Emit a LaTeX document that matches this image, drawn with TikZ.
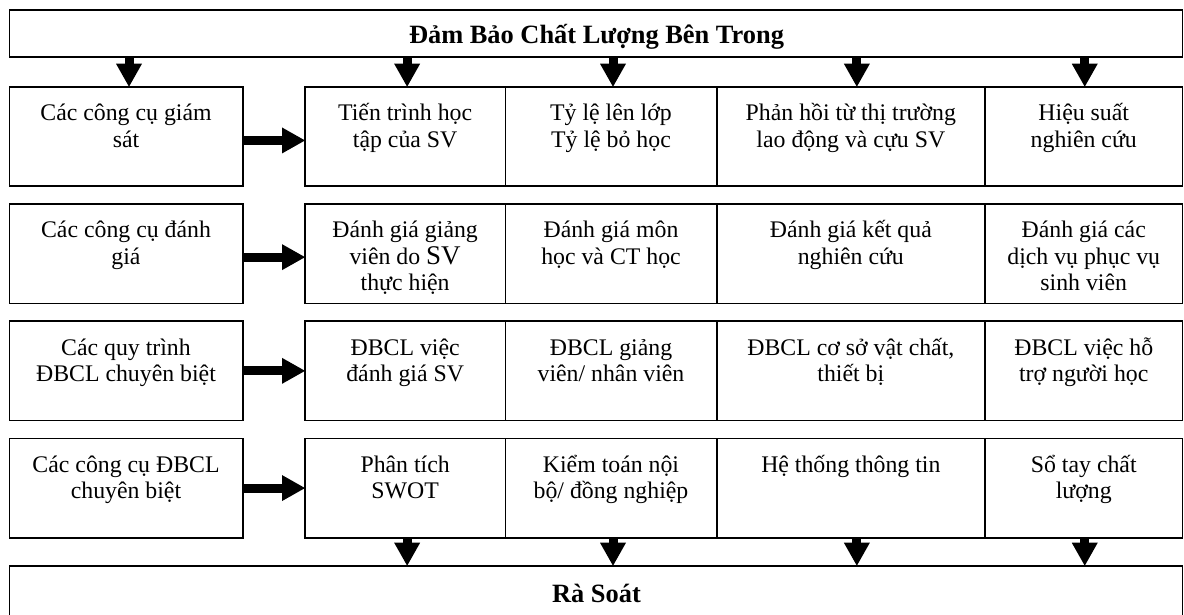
\documentclass[tikz,border=0pt]{standalone}
\usepackage{fontspec}
\setmainfont{Liberation Serif}
\usetikzlibrary{arrows.meta}

% centred lines with a fixed line pitch; the box baseline is the first line
\newcommand\celltext[1]{\vtop{\lineskiplimit=-100pt\relax\halign{\hfil##\hfil\cr#1\crcr}}}

\begin{document}
\begin{tikzpicture}[x=1pt,y=1pt,
  frame/.style={draw=black, line width=1.6pt, rectangle, inner sep=0pt, outer sep=0pt},
  bodytext/.style={anchor=base, inner sep=0pt, font=\fontsize{23.8}{26.5}\selectfont},
  headtext/.style={anchor=base, inner sep=0pt, font=\fontsize{26.4}{30}\selectfont\bfseries},
  blockarrow/.style={line width=9pt, black,
    -{Triangle[length=23pt,width=26pt,line width=0pt]}},
  leftcol/.style={frame, minimum width=233.4pt, minimum height=99.5pt},
  colA/.style={frame, minimum width=200.3pt, minimum height=99.5pt},
  colB/.style={frame, minimum width=211.4pt, minimum height=99.5pt},
  colC/.style={frame, minimum width=268.3pt, minimum height=99.5pt},
  colD/.style={frame, minimum width=197.5pt, minimum height=99.5pt}]

\useasboundingbox (0,0) rectangle (1184,-614);
\fill[white] (0,0) rectangle (1184,-614);

% header bar, and the footer bar that runs past the lower edge
\node[frame, minimum width=1173pt, minimum height=46.7pt] (top) at (596,-33.35) {};
\node[headtext] (toptext) at (596.5,-43.8) {Đảm Bảo Chất Lượng Bên Trong};
\node[frame, minimum width=1173pt, minimum height=54.3pt] (bottom) at (596,-592.85) {};
\node[headtext] (bottomtext) at (596.5,-602.2) {Rà Soát};

% row 1
\node[leftcol] (l1) at (126,-136.45) {};
\node[colA] (c11) at (405.15,-136.45) {};
\node[colB] (c12) at (611,-136.45) {};
\node[colC] (c13) at (850.85,-136.45) {};
\node[colD] (c14) at (1083.75,-136.45) {};
\node[bodytext] (t10) at (126,-120.7) {\celltext{Các công cụ giám\cr sát}};
\node[bodytext] (t11) at (405.15,-120.7) {\celltext{Tiến trình học\cr tập của SV}};
\node[bodytext] (t12) at (611,-120.7) {\celltext{Tỷ lệ lên lớp\cr Tỷ lệ bỏ học}};
\node[bodytext] (t13) at (850.85,-120.7) {\celltext{Phản hồi từ thị trường\cr lao động và cựu SV}};
\node[bodytext] (t14) at (1083.75,-120.7) {\celltext{Hiệu suất\cr nghiên cứu}};

% row 2
\node[leftcol] (l2) at (126,-253.65) {};
\node[colA] (c21) at (405.15,-253.65) {};
\node[colB] (c22) at (611,-253.65) {};
\node[colC] (c23) at (850.85,-253.65) {};
\node[colD] (c24) at (1083.75,-253.65) {};
\node[bodytext] (t20) at (126,-237.9) {\celltext{Các công cụ đánh\cr giá}};
\node[bodytext] (t21) at (405.15,-237.9) {\celltext{Đánh giá giảng\cr viên do {\fontsize{27}{26.5}\selectfont SV}\cr thực hiện}};
\node[bodytext] (t22) at (611,-237.9) {\celltext{Đánh giá môn\cr học và CT học}};
\node[bodytext] (t23) at (850.85,-237.9) {\celltext{Đánh giá kết quả\cr nghiên cứu}};
\node[bodytext] (t24) at (1083.75,-237.9) {\celltext{Đánh giá các\cr dịch vụ phục vụ\cr sinh viên}};

% row 3
\node[leftcol] (l3) at (126,-370.85) {};
\node[colA] (c31) at (405.15,-370.85) {};
\node[colB] (c32) at (611,-370.85) {};
\node[colC] (c33) at (850.85,-370.85) {};
\node[colD] (c34) at (1083.75,-370.85) {};
\node[bodytext] (t30) at (126,-355.1) {\celltext{Các quy trình\cr ĐBCL chuyên biệt}};
\node[bodytext] (t31) at (405.15,-355.1) {\celltext{ĐBCL việc\cr đánh giá SV}};
\node[bodytext] (t32) at (611,-355.1) {\celltext{ĐBCL giảng\cr viên/ nhân viên}};
\node[bodytext] (t33) at (850.85,-355.1) {\celltext{ĐBCL cơ sở vật chất,\cr thiết bị}};
\node[bodytext] (t34) at (1083.75,-355.1) {\celltext{ĐBCL việc hỗ\cr trợ người học}};

% row 4
\node[leftcol] (l4) at (126,-488.05) {};
\node[colA] (c41) at (405.15,-488.05) {};
\node[colB] (c42) at (611,-488.05) {};
\node[colC] (c43) at (850.85,-488.05) {};
\node[colD] (c44) at (1083.75,-488.05) {};
\node[bodytext] (t40) at (126,-472.3) {\celltext{Các công cụ ĐBCL\cr chuyên biệt}};
\node[bodytext] (t41) at (405.15,-472.3) {\celltext{Phân tích\cr SWOT}};
\node[bodytext] (t42) at (611,-472.3) {\celltext{Kiểm toán nội\cr bộ/ đồng nghiệp}};
\node[bodytext] (t43) at (850.85,-472.3) {\celltext{Hệ thống thông tin}};
\node[bodytext] (t44) at (1083.75,-472.3) {\celltext{Sổ tay chất\cr lượng}};

% arrows from the header into the first row
\draw[blockarrow] ([xshift=3pt]l1.north |- top.south) -- ([xshift=3pt]l1.north);
\draw[blockarrow] ([xshift=2pt]c11.north |- top.south) -- ([xshift=2pt]c11.north);
\draw[blockarrow] ([xshift=2pt]c12.north |- top.south) -- ([xshift=2pt]c12.north);
\draw[blockarrow] ([xshift=6pt]c13.north |- top.south) -- ([xshift=6pt]c13.north);
\draw[blockarrow] ([xshift=1pt]c14.north |- top.south) -- ([xshift=1pt]c14.north);

% arrows from each tool box to its row
\draw[blockarrow] ([yshift=-4pt]l1.east) -- ([yshift=-4pt]c11.west);
\draw[blockarrow] ([yshift=-3.5pt]l2.east) -- ([yshift=-3.5pt]c21.west);
\draw[blockarrow] (l3.east) -- (c31.west);
\draw[blockarrow] (l4.east) -- (c41.west);

% arrows from the last row into the footer
\draw[blockarrow] ([xshift=2pt]c41.south) -- ([xshift=2pt]c41.south |- bottom.north);
\draw[blockarrow] ([xshift=2pt]c42.south) -- ([xshift=2pt]c42.south |- bottom.north);
\draw[blockarrow] ([xshift=6pt]c43.south) -- ([xshift=6pt]c43.south |- bottom.north);
\draw[blockarrow] ([xshift=1pt]c44.south) -- ([xshift=1pt]c44.south |- bottom.north);
\end{tikzpicture}
\end{document}
